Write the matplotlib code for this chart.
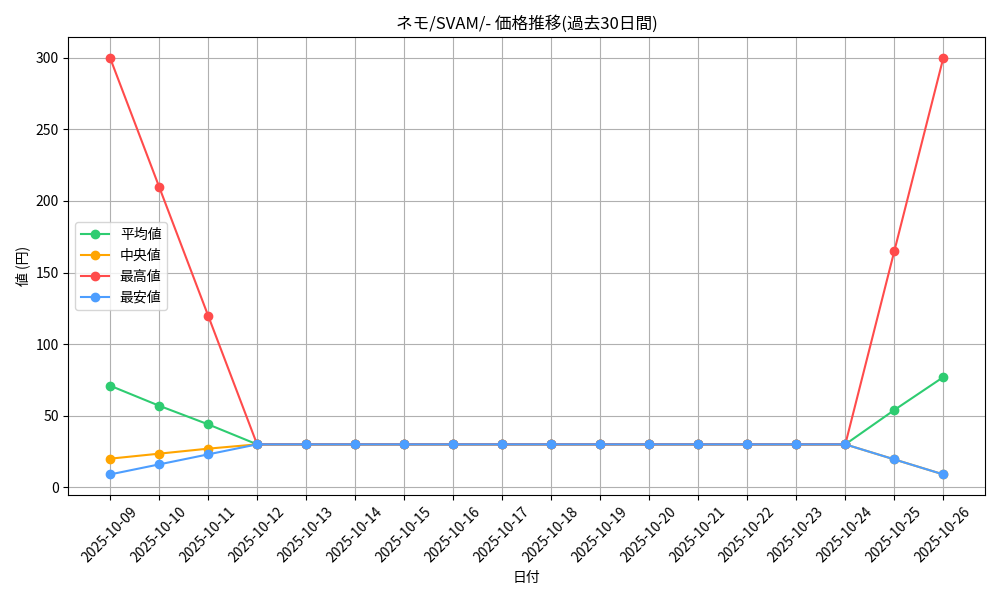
import matplotlib
matplotlib.use('Agg')
import matplotlib.pyplot as plt

plt.rcParams['font.family'] = ['Noto Sans CJK JP', 'DejaVu Sans']

dates = ['2025-10-09', '2025-10-10', '2025-10-11', '2025-10-12', '2025-10-13',
         '2025-10-14', '2025-10-15', '2025-10-16', '2025-10-17', '2025-10-18',
         '2025-10-19', '2025-10-20', '2025-10-21', '2025-10-22', '2025-10-23',
         '2025-10-24', '2025-10-25', '2025-10-26']

avg_values = [71, 57, 44, 30, 30, 30, 30, 30, 30, 30, 30, 30, 30, 30, 30, 30, 54, 77]
median_values = [20, 23.5, 27, 30, 30, 30, 30, 30, 30, 30, 30, 30, 30, 30, 30, 30, 19.5, 9]
max_values = [300, 210, 120, 30, 30, 30, 30, 30, 30, 30, 30, 30, 30, 30, 30, 30, 165, 300]
min_values = [9, 16, 23, 30, 30, 30, 30, 30, 30, 30, 30, 30, 30, 30, 30, 30, 19.5, 9]

fig, ax = plt.subplots(figsize=(10, 6), dpi=100)
ax.plot(dates, avg_values, marker='o', color='#2ecc71', label='平均値')
ax.plot(dates, median_values, marker='o', color='#ffa500', label='中央値')
ax.plot(dates, max_values, marker='o', color='#ff4b4b', label='最高値')
ax.plot(dates, min_values, marker='o', color='#4d9eff', label='最安値')

ax.set_title('ネモ/SVAM/- 価格推移(過去30日間)')
ax.set_xlabel('日付')
ax.set_ylabel('値 (円)')
ax.grid(True)
ax.legend(loc='center left')
plt.xticks(rotation=45)
plt.tight_layout()
plt.savefig('out.png')
